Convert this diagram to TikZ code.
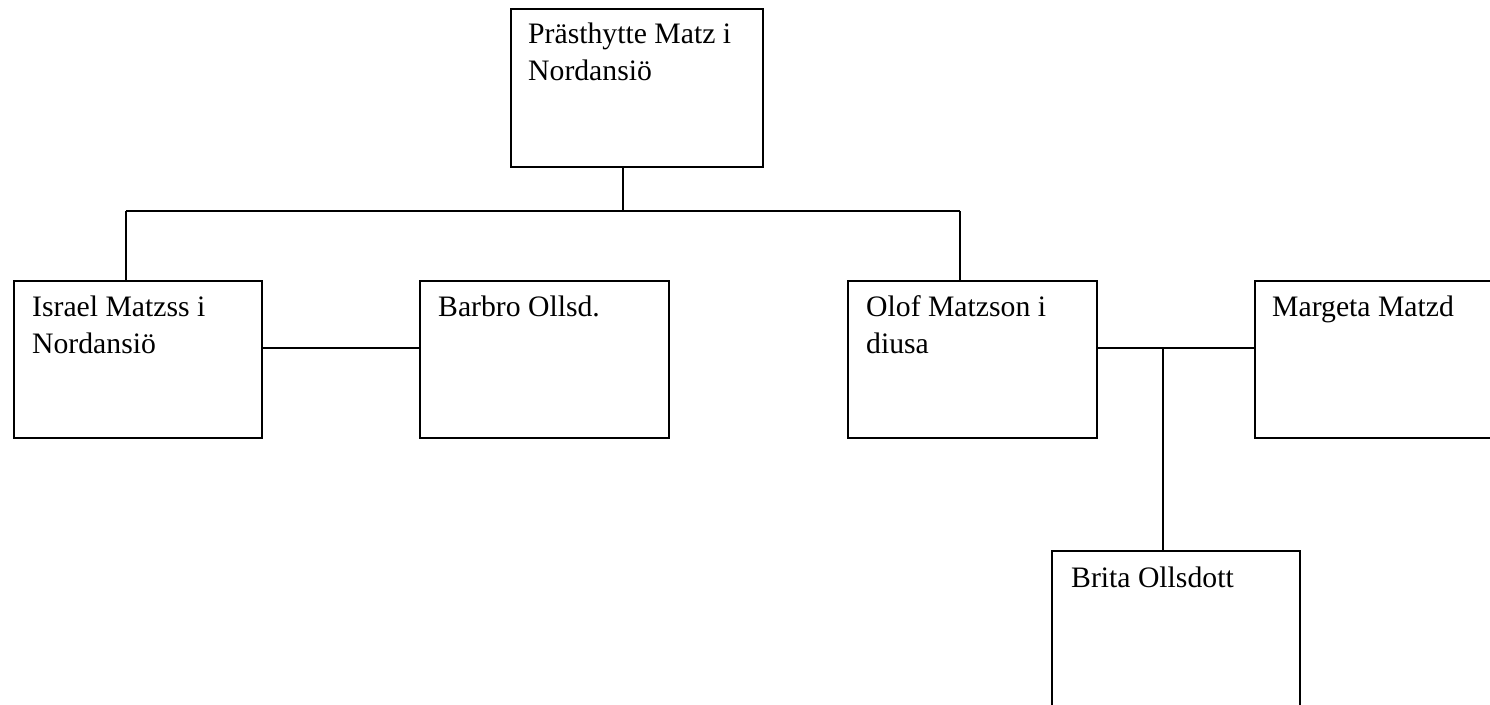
\documentclass[tikz,border=0pt]{standalone}
\usepackage{fontspec}
\setmainfont{Liberation Serif}
\newcommand{\boxtext}[1]{\parbox[t]{225pt}{\raggedright #1}}
\begin{document}
\begin{tikzpicture}[x=1pt,y=-1pt,
  box/.style={draw,line width=1.6pt,rectangle,inner sep=0pt,anchor=north west},
  lbl/.style={anchor=base west,inner sep=0pt,font=\fontsize{29.7}{37.5}\selectfont},
  conn/.style={line width=1.6pt}]
\useasboundingbox (0,0) rectangle (1490,704);
\clip (0,0) rectangle (1490,704);
\node[box,minimum width=252pt,minimum height=158pt] (p) at (510,8) {};
\node[box,minimum width=248pt,minimum height=157pt] (i) at (13,280) {};
\node[box,minimum width=249pt,minimum height=157pt] (b) at (419,280) {};
\node[box,minimum width=249pt,minimum height=157pt] (o) at (847,280) {};
\node[box,minimum width=260pt,minimum height=157pt] (m) at (1254,280) {};
\node[box,minimum width=248pt,minimum height=200pt] (br) at (1051,550) {};
\node[lbl] (tp) at ([shift={(18,35)}]p.north west) {\boxtext{Prästhytte Matz i\\Nordansiö}};
\node[lbl] (ti) at ([shift={(19,36)}]i.north west) {\boxtext{Israel Matzss i\\Nordansiö}};
\node[lbl] (tb) at ([shift={(19,36)}]b.north west) {\boxtext{Barbro Ollsd.}};
\node[lbl] (to) at ([shift={(19,36)}]o.north west) {\boxtext{Olof Matzson i\\diusa}};
\node[lbl] (tm) at ([shift={(18,36)}]m.north west) {\boxtext{Margeta Matzd}};
\node[lbl] (tbr) at ([shift={(20,37)}]br.north west) {\boxtext{Brita Ollsdott}};
\coordinate (h) at (623,211);
\coordinate (hl) at (126,211);
\coordinate (hr) at (960,211);
\coordinate (ml) at (340,348);
\coordinate (mo) at (1163,348);
\draw[conn] (h |- p.south) -- (h);
\draw[conn] (hl) -- (hr);
\draw[conn] (hl) -- (hl |- i.north);
\draw[conn] (hr) -- (hr |- o.north);
\draw[conn] (ml -| i.east) -- (ml -| b.west);
\draw[conn] (mo -| o.east) -- (mo -| m.west);
\draw[conn] (mo) -- (mo |- br.north);
\end{tikzpicture}
\end{document}
